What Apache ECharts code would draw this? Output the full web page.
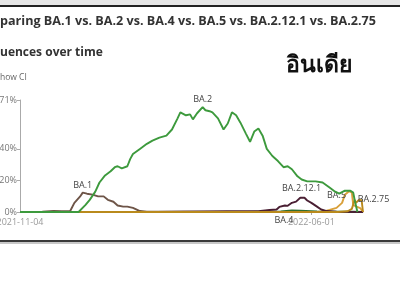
<!DOCTYPE html>
<html><head><meta charset="utf-8">
<script src="https://cdn.jsdelivr.net/npm/echarts@6/dist/echarts.min.js"></script>
<style>html,body{margin:0;padding:0;background:#fff}#c{width:400px;height:284px}</style>
</head><body><div id="c"></div>
<script>
// ---- data (percent of sequences) ----
const seriesNames = ['BA.1', 'BA.2', 'BA.4', 'BA.5', 'BA.2.12.1', 'BA.2.75'];
const xStart = '2021-11-04';
const xEnd = '2022-07-08';
const xTickDates = ['2021-11-04', '2022-06-01'];
const yTicks = [0, 20, 40, 71];

const ba1 = [['2021-11-04',0],['2021-11-20',0.2],['2021-11-28',0.6],['2021-12-04',0.5],['2021-12-10',0.6],['2021-12-13',5.8],['2021-12-17',9.7],['2021-12-19',12.3],['2021-12-22',11.6],['2021-12-26',11.0],['2021-12-30',9.9],['2022-01-03',9.9],['2022-01-06',7.7],['2022-01-10',6.5],['2022-01-13',4.1],['2022-01-17',3.4],['2022-01-20',3.4],['2022-01-24',2.6],['2022-01-29',0.6],['2022-02-03',0.2],['2022-03-01',0.2],['2022-04-01',0.1],['2022-07-08',0]];
const ba2 = [['2021-11-04',0],['2021-12-16',0],['2021-12-21',4.5],['2021-12-24',7.7],['2021-12-28',12.9],['2021-12-31',18.7],['2022-01-04',23.2],['2022-01-08',25.8],['2022-01-11',28.4],['2022-01-13',29.0],['2022-01-16',27.7],['2022-01-20',29.0],['2022-01-22',33.5],['2022-01-24',36.8],['2022-01-29',40.0],['2022-02-03',43.2],['2022-02-07',45.2],['2022-02-12',47.1],['2022-02-17',48.4],['2022-02-21',52.3],['2022-02-25',59.4],['2022-02-27',63.2],['2022-03-03',61.3],['2022-03-06',61.9],['2022-03-08',58.7],['2022-03-11',62.6],['2022-03-15',66.5],['2022-03-17',64.5],['2022-03-20',63.9],['2022-03-22',63.2],['2022-03-26',59.4],['2022-03-30',52.3],['2022-04-02',56.1],['2022-04-05',63.2],['2022-04-08',61.3],['2022-04-11',56.8],['2022-04-15',49.7],['2022-04-18',44.5],['2022-04-21',51.0],['2022-04-24',52.9],['2022-04-27',48.4],['2022-04-30',40.0],['2022-05-04',35.5],['2022-05-08',32.3],['2022-05-12',28.4],['2022-05-15',29.0],['2022-05-18',27.1],['2022-05-22',22.6],['2022-05-25',20.6],['2022-05-29',19.4],['2022-06-04',19.4],['2022-06-09',18.7],['2022-06-14',15.5],['2022-06-18',12.9],['2022-06-21',11.6],['2022-06-25',13.5],['2022-06-29',13.5],['2022-07-01',12.3],['2022-07-02',7.7],['2022-07-04',0]];
const ba4 = [['2021-11-04',0],['2022-04-15',0],['2022-05-10',0.3],['2022-05-18',1.0],['2022-05-24',0.8],['2022-06-05',0.3],['2022-07-01',0.2],['2022-07-08',0]];
const ba5 = [['2021-11-04',0],['2022-06-06',0.2],['2022-06-10',0.3],['2022-06-14',1.3],['2022-06-19',2.6],['2022-06-23',5.8],['2022-06-25',11.0],['2022-06-28',13.2],['2022-06-30',12.3],['2022-07-01',4.5],['2022-07-03',3.5],['2022-07-06',2.5],['2022-07-08',0]];
const ba2121 = [['2021-11-04',0],['2022-02-10',0],['2022-04-01',0.5],['2022-04-24',0.5],['2022-05-02',1.3],['2022-05-07',1.6],['2022-05-09',3.2],['2022-05-13',4.1],['2022-05-15',3.9],['2022-05-18',5.8],['2022-05-21',6.6],['2022-05-24',9.0],['2022-05-25',9.9],['2022-05-27',9.0],['2022-05-29',7.3],['2022-06-01',5.8],['2022-06-05',3.4],['2022-06-08',1.6],['2022-06-12',0.6],['2022-06-19',0.2],['2022-07-08',0]];
const ba275 = [['2021-11-04',0],['2022-06-20',0],['2022-06-27',0.5],['2022-06-30',2.0],['2022-07-02',7.7],['2022-07-03',5.8],['2022-07-05',7.7],['2022-07-06',6.6],['2022-07-07',7.5],['2022-07-08',0]];

const seriesData = [ba1, ba2, ba4, ba5, ba2121, ba275];
const colors = ['#6e5548', '#3d9a3d', '#2f6e2f', '#d9a03a', '#4a1f33', '#b98a1c'];
const labelPos = ['top', 'top', 'bottom', 'left', 'top', 'right'];
const labelOffset = [[0,0],[0,0],[-8,3],[0,4],[0,0],[0,0]];

const ts = s => echarts.time.parse(s).getTime();
const chart = echarts.init(document.getElementById('c'), null, {renderer: 'canvas'});
const FONT = 'Open Sans';

chart.setOption({
  animation: false,
  textStyle: {fontFamily: FONT},
  grid: {left: 20, right: 37, top: 100, bottom: 72, containLabel: false, outerBoundsMode: 'none'},
  xAxis: {
    type: 'value', min: ts(xStart), max: ts(xEnd),
    axisLine: {show: true, lineStyle: {color: '#c8b48a', width: 1}},
    axisTick: {show: true, customValues: [ts(xTickDates[1])], length: 3, lineStyle: {color: '#aaa'}},
    axisLabel: {customValues: xTickDates.map(ts), color: '#999', fontSize: 9, margin: 6,
      formatter: v => echarts.time.format(v, '{yyyy}-{MM}-{dd}', false)},
    splitLine: {show: false}
  },
  yAxis: {
    type: 'value', min: 0, max: yTicks[yTicks.length - 1],
    axisLine: {show: true, lineStyle: {color: '#aaa'}},
    axisTick: {show: true, customValues: yTicks, length: 3, lineStyle: {color: '#aaa'}},
    axisLabel: {customValues: yTicks, color: '#777', fontSize: 9, margin: 3, formatter: v => v + '%'},
    splitLine: {show: false}
  },
  series: seriesNames.map((name, i) => ({
    name, type: 'line', data: seriesData[i].map(p => [ts(p[0]), p[1]]), showSymbol: false, symbol: 'none',
    lineStyle: {color: colors[i], width: 1.9}, z: i === 1 ? 5 : 3,
    markPoint: {
      symbol: 'circle', symbolSize: 0,
      data: [{type: 'max'}],
      label: {show: true, formatter: name, position: labelPos[i], offset: labelOffset[i],
        color: '#444', fontSize: 9, fontFamily: FONT, distance: 3}
    }
  })),
  graphic: [
    {type: 'rect', shape: {x: 0, y: 0, width: 400, height: 5}, style: {fill: '#e6e6e6'}},
    {type: 'rect', shape: {x: 0, y: 5, width: 400, height: 2}, style: {fill: '#222'}},
    {type: 'rect', shape: {x: 0, y: 240, width: 400, height: 2}, style: {fill: '#3a3a3a'}},
    {type: 'rect', shape: {x: 0, y: 242, width: 400, height: 2}, style: {fill: '#c8c8c8'}},
    {type: 'text', left: 0, top: 15, style: {text: 'paring BA.1 vs. BA.2 vs. BA.4 vs. BA.5 vs. BA.2.12.1 vs. BA.2.75', font: 'bold 12.6px "Open Sans"', fill: '#333'}},
    {type: 'text', left: 0, top: 47, style: {text: 'uences over time', font: 'bold 12px "Open Sans"', fill: '#333'}},
    {type: 'text', left: 0, top: 73, style: {text: 'how CI', font: '8.5px "Open Sans"', fill: '#666'}},
    {type: 'text', left: 286, top: 54, style: {text: 'อินเดีย', font: 'bold 23px "Noto Sans", "DejaVu Sans", sans-serif', fill: '#111'}}
  ]
});
</script></body></html>
